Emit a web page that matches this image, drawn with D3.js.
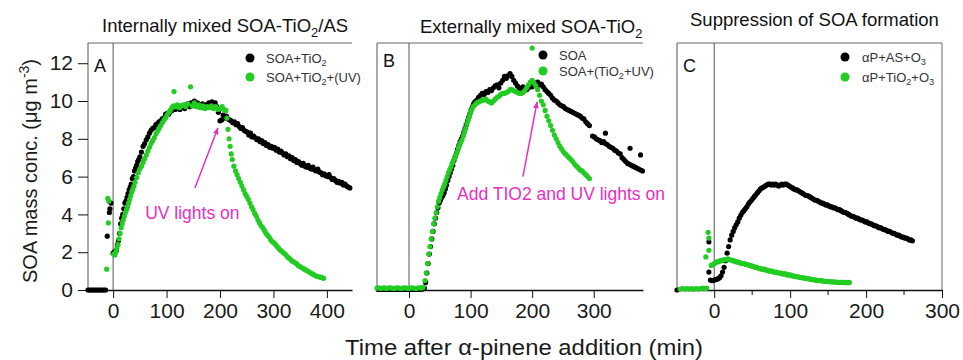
<!DOCTYPE html>
<html><head><meta charset="utf-8">
<script src="https://cdnjs.cloudflare.com/ajax/libs/d3/7.8.5/d3.min.js"></script>
<style>body{margin:0;background:#fff}svg{display:block}text{font-family:"Liberation Sans",Arial,sans-serif}</style>
</head><body><svg id="c" width="963" height="360"></svg>
<script>
// ---------- data (time in min, SOA mass conc. in ug m-3) ----------
const aSOA_TiO2 = [[-47,0],[-44,0],[-41,0],[-38,0],[-35,0],[-32,0],[-29,0],[-26,0],[-23,0],[-20,0],[-17,0],[-14,0],
[-11,2.85],[-7,4.1],[-6,4.3],[-4,4.6],
[0,1.95],[2,2.0],[4,2.0],[6,2.1],[8,2.4],[10,2.6],[12,3.0],[14,3.5],[16,3.8],[18,4.0],[20,4.3],[22,4.6],[24,4.7],[26,4.9],[28,5.1],[30,5.3],[32,5.45],[34,5.6],[36,5.9],[38,6.0],[40,6.3],[42,6.45],[44,6.6],[46,6.8],[48,6.9],[50,7.05],[53,7.3],[56,7.6],[59,7.75],[62,7.95],[65,8.1],[68,8.3],[71,8.45],[74,8.55],[77,8.6],[80,8.75],[83,8.8],[86,8.9],[89,8.95],[92,9.05],[95,9.1],[98,9.3],[101,9.35],[104,9.3],[107,9.45],[110,9.5],[113,9.6],[116,9.55],[119,9.6],[122,9.7],[125,9.55],[128,9.75],[131,9.7],[134,9.6],[137,9.8],[140,9.85],[143,9.7],[146,9.9],[149,9.75],[152,10.0],[155,9.8],[158,9.9],[161,9.7],[164,9.75],[167,9.85],[170,9.65],[173,9.8],[176,9.7],[179,9.9],[182,9.75],[185,9.95],[188,9.8],[191,9.9],[194,9.7],[197,9.4],[200,8.95],[203,9.0],[206,9.25],[209,9.1],[212,9.2],[215,9.05],[218,9.0],[221,8.95],[224,8.85],[227,8.9],[230,8.75],[233,8.8],[236,8.65],[239,8.55],[242,8.6],[245,8.45],[248,8.4],[251,8.35],[254,8.2],[257,8.3],[260,8.1],[263,8.15],[266,8.05],[269,7.95],[272,8.0],[275,7.85],[278,7.9],[281,7.75],[284,7.8],[287,7.65],[290,7.7],[293,7.55],[296,7.6],[299,7.5],[302,7.55],[305,7.4],[308,7.45],[311,7.3],[314,7.35],[317,7.25],[320,7.15],[323,7.2],[326,7.05],[329,7.1],[332,6.95],[335,7.0],[338,6.85],[341,6.9],[344,6.75],[347,6.8],[350,6.7],[353,6.6],[356,6.7],[359,6.55],[362,6.5],[365,6.6],[368,6.45],[371,6.4],[374,6.5],[377,6.35],[380,6.3],[383,6.4],[386,6.25],[389,6.2],[392,6.1],[395,6.15],[398,6.05],[401,6.0],[404,6.1],[407,5.95],[410,5.85],[413,5.9],[416,5.8],[419,5.7],[422,5.75],[425,5.65],[428,5.7],[431,5.55],[434,5.6],[437,5.5],[440,5.45],[443,5.4]];

const aSOA_TiO2_UV = [[-12,1.1],[-10,4.85],[-9,3.55],[-8,4.7],
[1,1.9],[3,1.85],[5,2.0],[7,2.2],[9,2.4],[11,2.7],[13,3.0],[15,3.3],[17,3.5],[19,3.7],[21,3.9],[23,4.1],[25,4.25],[27,4.4],[29,4.6],[31,4.8],[33,5.0],[35,5.2],[37,5.35],[39,5.5],[41,5.7],[44,5.95],[47,6.2],[50,6.4],[53,6.55],[56,6.75],[59,6.95],[62,7.15],[65,7.35],[68,7.55],[71,7.75],[74,7.9],[77,8.05],[80,8.25],[83,8.4],[86,8.55],[89,8.7],[92,8.85],[95,9.0],[98,9.1],[101,9.25],[104,9.4],[107,9.5],[110,9.65],[113,9.75],[114,10.5],[117,9.7],[120,9.8],[124,9.65],[128,9.75],[132,9.8],[136,9.7],[140,9.85],[145,10.75],[148,9.75],[152,9.9],[156,9.7],[160,9.8],[164,9.65],[168,9.75],[172,9.6],[176,9.7],[180,9.65],[184,9.75],[188,9.6],[192,9.7],[196,9.55],[200,9.6],[204,9.7],[208,9.55],[211,9.5],[213,9.1],[215,8.5],[217,8.0],[219,7.6],[221,7.2],[223,6.9],[226,6.55],[229,6.3],[232,6.1],[235,5.9],[238,5.7],[241,5.5],[244,5.3],[247,5.1],[250,4.95],[253,4.8],[256,4.6],[259,4.4],[262,4.25],[265,4.05],[268,3.9],[271,3.7],[274,3.55],[277,3.4],[280,3.3],[283,3.15],[286,3.0],[289,2.9],[292,2.8],[295,2.65],[298,2.55],[301,2.5],[304,2.4],[307,2.3],[310,2.2],[313,2.1],[316,2.05],[319,1.95],[322,1.9],[325,1.8],[328,1.7],[331,1.65],[334,1.55],[337,1.5],[340,1.45],[343,1.4],[346,1.3],[349,1.25],[352,1.2],[355,1.15],[358,1.1],[361,1.05],[364,1.0],[367,0.95],[370,0.9],[373,0.85],[376,0.8],[379,0.75],[382,0.72],[385,0.7],[388,0.68],[391,0.65],[394,0.62]];

const bSOA = [[-50,0.03],[-46,0.03],[-42,0.03],[-38,0.03],[-34,0.03],[-30,0.03],[-26,0.03],[-22,0.03],[-18,0.03],[-14,0.03],[-10,0.03],[-6,0.03],[-2,0.03],[2,0.03],[6,0.03],[10,0.03],[14,0.03],[18,0.03],[22,0.05],
[25,0.1],[27,0.4],[29,0.9],[31,1.4],[33,1.9],[35,2.3],[37,2.7],[39,3.1],[41,3.5],[43,3.8],[45,4.1],[47,4.35],[49,4.6],[51,4.75],[53,4.9],[55,5.0],[57,5.15],[59,5.35],[61,5.55],[63,5.8],[65,6.0],[67,6.2],[69,6.4],[71,6.6],[73,6.85],[75,7.05],[77,7.25],[79,7.45],[81,7.65],[83,7.85],[85,8.0],[87,8.15],[89,8.35],[91,8.55],[93,8.75],[95,8.95],[97,9.15],[99,9.35],[101,9.55],[103,9.7],[105,9.85],[107,9.95],[110,10.05],[113,10.2],[116,10.3],[119,10.4],[122,10.35],[125,10.5],[128,10.45],[131,10.6],[134,10.55],[137,10.7],[140,10.8],[143,10.85],[146,10.7],[149,10.95],[152,11.1],[155,11.3],[158,11.2],[161,11.35],[164,11.45],[167,11.3],[170,11.1],[173,10.95],[176,10.8],[179,10.7],[182,10.6],[185,10.75],[188,10.65],[191,10.6],[194,10.7],[197,10.8],[200,10.75],[203,10.9],[206,10.95],[209,11.0],[212,10.85],[215,10.9],[218,10.75],[221,10.6],[224,10.5],[227,10.4],[230,10.3],[233,10.15],[236,10.05],[239,10.0],[242,9.9],[245,9.8],[248,9.75],[251,9.7],[254,9.6],[257,9.55],[260,9.5],[263,9.45],[266,9.4],[269,9.35],[272,9.3],[275,9.25],[278,9.2],[281,9.1],[284,9.05],[287,8.9],[290,8.8],[293,8.7],[298,8.15],[301,8.1],[304,8.0],[307,7.95],[310,7.9],[313,7.8],[316,7.85],[319,7.75],[322,7.7],[325,7.6],[328,7.55],[331,7.5],[334,7.4],[337,7.35],[340,7.25],[343,7.2],[346,7.0],[349,6.9],[352,6.8],[355,6.7],[358,6.65],[361,6.6],[364,6.55],[367,6.5],[370,6.45],[373,6.4],[376,6.35],[379,6.3],[319,8.3],[359,7.5],[376,7.15]];

const bSOA_TiO2_UV = [[-52,0.1],[-49,0.12],[-46,0.08],[-43,0.1],[-40,0.12],[-37,0.08],[-34,0.1],[-31,0.12],[-28,0.1],[-25,0.08],[-22,0.1],[-19,0.12],[-16,0.1],[-13,0.08],[-10,0.1],[-7,0.12],[-4,0.1],[-1,0.08],[2,0.1],[5,0.12],[8,0.1],[11,0.08],[14,0.1],[17,0.12],[20,0.1],[23,0.15],
[26,0.5],[28,0.9],[30,1.4],[32,1.9],[34,2.3],[36,2.7],[38,3.1],[40,3.5],[42,3.8],[44,4.1],[46,4.4],[48,4.7],[50,4.9],[52,5.1],[54,5.3],[56,5.45],[58,5.6],[60,5.8],[62,6.0],[64,6.2],[66,6.35],[68,6.5],[70,6.7],[72,6.85],[74,7.0],[76,7.15],[78,7.3],[80,7.5],[82,7.65],[84,7.8],[86,7.95],[88,8.15],[90,8.35],[92,8.55],[94,8.8],[96,9.0],[98,9.2],[100,9.4],[102,9.55],[104,9.7],[107,9.8],[110,9.9],[113,9.95],[116,10.0],[119,10.05],[122,10.05],[125,10.1],[128,10.0],[131,9.95],[134,9.9],[137,10.0],[140,10.1],[143,10.2],[146,10.25],[149,10.35],[152,10.4],[155,10.4],[158,10.45],[161,10.5],[164,10.6],[167,10.6],[170,10.55],[173,10.5],[176,10.45],[179,10.4],[182,10.4],[185,10.45],[188,10.55],[191,10.7],[194,10.85],[197,11.0],[200,11.1],[200,12.8],[203,10.95],[206,10.8],[209,10.6],[212,10.3],[215,10.0],[218,9.8],[221,9.5],[224,9.2],[227,8.95],[230,8.7],[233,8.45],[236,8.2],[239,8.0],[242,7.8],[245,7.6],[248,7.45],[251,7.3],[254,7.2],[257,7.1],[260,7.0],[263,6.9],[266,6.8],[269,6.65],[272,6.55],[275,6.45],[278,6.35],[281,6.3],[284,6.2],[287,6.1],[290,6.0],[293,5.9]];

const cAP_AS_O3 = [[-49,0],[-7,2.55],[-7,0.95],[-5,0.53],[-3,0.5],[-1,0.5],[1,0.55],[3,0.55],[5,0.6],[7,0.65],[9,0.75],[11,0.95],[13,1.2],[15,1.55],[17,1.95],[19,2.3],[21,2.65],[23,2.9],[25,3.1],[27,3.3],[29,3.45],[31,3.6],[33,3.8],[35,3.95],[37,4.1],[39,4.2],[41,4.3],[43,4.4],[45,4.55],[47,4.65],[49,4.75],[51,4.85],[53,4.95],[55,5.05],[57,5.15],[59,5.25],[61,5.35],[63,5.4],[65,5.45],[67,5.5],[69,5.55],[71,5.6],[73,5.6],[75,5.55],[77,5.6],[79,5.55],[81,5.6],[83,5.55],[85,5.5],[87,5.55],[89,5.6],[91,5.55],[93,5.6],[95,5.6],[97,5.55],[99,5.5],[101,5.45],[103,5.4],[105,5.35],[107,5.3],[109,5.3],[111,5.25],[113,5.2],[115,5.15],[117,5.1],[119,5.05],[121,5.0],[123,5.0],[125,4.95],[127,4.9],[129,4.85],[131,4.8],[133,4.75],[135,4.75],[137,4.7],[139,4.65],[141,4.6],[143,4.6],[145,4.55],[147,4.5],[149,4.5],[151,4.45],[153,4.4],[155,4.4],[157,4.35],[159,4.35],[161,4.3],[163,4.25],[165,4.25],[167,4.2],[169,4.15],[171,4.1],[173,4.1],[175,4.05],[177,4.0],[179,3.95],[181,3.9],[183,3.9],[185,3.85],[187,3.8],[189,3.8],[191,3.75],[193,3.7],[195,3.7],[197,3.65],[199,3.6],[201,3.6],[203,3.55],[205,3.5],[207,3.5],[209,3.45],[211,3.4],[213,3.4],[215,3.35],[217,3.3],[219,3.3],[221,3.25],[223,3.2],[225,3.2],[227,3.15],[229,3.1],[231,3.1],[233,3.05],[235,3.0],[237,3.0],[239,2.95],[241,2.9],[243,2.9],[245,2.85],[247,2.8],[249,2.8],[251,2.75],[253,2.75],[255,2.7],[257,2.65],[259,2.65],[261,2.6]];

const cAP_TiO2_O3 = [[-45,0.05],[-42,0.08],[-39,0.05],[-36,0.08],[-33,0.05],[-30,0.08],[-27,0.05],[-24,0.08],[-21,0.05],[-18,0.08],[-15,0.1],[-12,0.08],[-10,0.1],
[-11,1.75],[-8,3.05],[-7,2.75],[-7,2.1],
[-4,1.3],[-2,1.35],[0,1.4],[2,1.45],[4,1.5],[6,1.5],[8,1.55],[10,1.55],[12,1.6],[14,1.6],[16,1.6],[18,1.65],[20,1.6],[22,1.6],[24,1.55],[26,1.55],[28,1.5],[30,1.5],[32,1.45],[34,1.45],[36,1.4],[38,1.4],[40,1.4],[42,1.35],[44,1.35],[46,1.3],[48,1.3],[50,1.25],[52,1.25],[54,1.2],[56,1.2],[58,1.15],[60,1.15],[62,1.1],[64,1.1],[66,1.1],[68,1.05],[70,1.05],[72,1.0],[74,1.0],[76,1.0],[78,0.95],[80,0.95],[82,0.95],[84,0.9],[86,0.9],[88,0.9],[90,0.85],[92,0.85],[94,0.85],[96,0.8],[98,0.8],[100,0.8],[102,0.75],[104,0.75],[106,0.72],[108,0.7],[110,0.7],[112,0.68],[114,0.66],[116,0.65],[118,0.64],[120,0.62],[122,0.6],[124,0.6],[126,0.58],[128,0.56],[130,0.55],[132,0.54],[134,0.52],[136,0.5],[138,0.5],[140,0.5],[142,0.48],[144,0.47],[146,0.46],[148,0.45],[150,0.45],[152,0.44],[154,0.43],[156,0.43],[158,0.42],[160,0.42],[162,0.41],[164,0.4],[166,0.4],[168,0.4],[170,0.4],[172,0.39],[174,0.4],[176,0.39],[178,0.4]];

const yTicks = [0,2,4,6,8,10,12];
const aXTicks = [0,100,200,300,400];
const bXTicks = [0,100,200,300];
const cXTicks = [0,100,200,300];
const cXMinor = [50,150,250];

// ---------- drawing ----------
const svg = d3.select("#c");
const GREEN = "#22cc22", MAG = "#e830c0";
const yTop = 43, yBot = 290;
const y = d3.scaleLinear().domain([0, 13.07]).range([yBot, yTop]);

// rich text: strings are normal, {sub:..}/{sup:..} are shifted; following text restores baseline
function rich(sel, parts, size){
  let shift = 0;
  parts.forEach(p=>{
    if (typeof p === "string") {
      const t = sel.append("tspan").text(p);
      if (shift) { t.attr("dy", -shift); shift = 0; }
    } else {
      const d = p.sub ? size*0.25 : -size*0.4;
      sel.append("tspan").attr("font-size", size*0.7).attr("dy", d - shift).text(p.sub || p.sup);
      shift = d;
    }
  });
}

svg.append("defs").append("marker").attr("id","arr").attr("viewBox","0 0 10 10")
  .attr("refX",9).attr("refY",5).attr("markerWidth",7).attr("markerHeight",7).attr("orient","auto-start-reverse")
  .attr("markerUnits","userSpaceOnUse")
  .append("path").attr("d","M0,1 L10,5 L0,9 z").attr("fill",MAG);

const panels = [
  {x:d3.scaleLinear().domain([-47,447]).range([88,352]), ticks:aXTicks, minor:[], series:[[aSOA_TiO2,"#000"],[aSOA_TiO2_UV,GREEN]],
   letter:"A", yAxis:true, right:false, title:["Internally mixed SOA-TiO",{sub:"2"},"/AS"], tx:102, ty:32,
   leg:[[["SOA+TiO",{sub:"2"}],"#000"],[["SOA+TiO",{sub:"2"},"+(UV)"],GREEN]], lx:250, ly:[58,77], ltx:266,
   arrow:[[153,5.4],[196,8.57]], note:"UV lights on", nt:[60,3.75]},
  {x:d3.scaleLinear().domain([-52,380]).range([377,643]), ticks:bXTicks, minor:[], series:[[bSOA,"#000"],[bSOA_TiO2_UV,GREEN]],
   letter:"B", yAxis:false, right:false, title:["Externally mixed SOA-TiO",{sub:"2"}], tx:420, ty:33,
   leg:[[["SOA"],"#000"],[["SOA+(TiO",{sub:"2"},"+UV)"],GREEN]], lx:543, ly:[55,71], ltx:559,
   arrow:[[185,6.0],[208,9.95]], note:"Add TIO2 and UV lights on", nt:[78,4.75]},
  {x:d3.scaleLinear().domain([-49,300]).range([677,942]), ticks:cXTicks, minor:cXMinor, series:[[cAP_AS_O3,"#000"],[cAP_TiO2_O3,GREEN]],
   letter:"C", yAxis:false, right:true, title:["Suppression of SOA formation"], tx:690, ty:26,
   leg:[[["\u03b1P+AS+O",{sub:"3"}],"#000"],[["\u03b1P+TiO",{sub:"2"},"+O",{sub:"3"}],GREEN]], lx:845, ly:[57,77], ltx:862,
   arrow:null}
];

panels.forEach(p=>{
  const g = svg.append("g");
  const [x0,x1] = p.x.range();
  g.append("line").attr("x1",x0).attr("x2",x1).attr("y1",yTop).attr("y2",yTop).attr("stroke","#666").attr("stroke-width",1);
  g.append("line").attr("x1",x0).attr("x2",x0).attr("y1",yTop).attr("y2",yBot).attr("stroke","#555").attr("stroke-width",1);
  if (p.right) g.append("line").attr("x1",x1).attr("x2",x1).attr("y1",yTop).attr("y2",yBot).attr("stroke","#666").attr("stroke-width",1);
  g.append("line").attr("x1",p.x(0)).attr("x2",p.x(0)).attr("y1",yTop).attr("y2",yBot).attr("stroke","#555").attr("stroke-width",1);
  const xa = g.append("g").attr("transform",`translate(0,${yBot})`)
    .call(d3.axisBottom(p.x).tickValues(p.ticks).tickSize(8).tickPadding(5).tickSizeOuter(0));
  xa.select(".domain").attr("stroke","#111").attr("stroke-width",1.3);
  xa.selectAll(".tick line").attr("stroke","#111");
  xa.selectAll("text").attr("font-size",21).attr("fill","#1a1a1a").attr("font-family","Liberation Sans, Arial, sans-serif");
  if (p.minor.length){
    g.selectAll(".mn").data(p.minor).join("line").attr("x1",d=>p.x(d)).attr("x2",d=>p.x(d))
      .attr("y1",yBot).attr("y2",yBot+5).attr("stroke","#111");
  }
  if (p.yAxis){
    const ya = g.append("g").attr("transform",`translate(${x0},0)`)
      .call(d3.axisLeft(y).tickValues(yTicks).tickSize(10).tickPadding(5).tickSizeOuter(0));
    ya.select(".domain").remove();
    ya.selectAll(".tick line").attr("stroke","#111");
    ya.selectAll("text").attr("font-size",21).attr("fill","#1a1a1a").attr("font-family","Liberation Sans, Arial, sans-serif");
  }
  p.series.forEach(([data,col])=>{
    g.append("g").selectAll("circle").data(data).join("circle")
      .attr("cx",d=>p.x(d[0])).attr("cy",d=>y(d[1])).attr("r",2.6).attr("fill",col);
  });
  g.append("text").attr("x",x0+6).attr("y",p.letter==="B"?67:72).attr("font-size",18).attr("fill","#111").text(p.letter);
  rich(g.append("text").attr("x",p.tx).attr("y",p.ty).attr("font-size",18.5).attr("fill","#111"), p.title, 18.5);
  p.leg.forEach(([parts,col],i)=>{
    g.append("circle").attr("cx",p.lx).attr("cy",p.ly[i]).attr("r",4.5).attr("fill",col);
    rich(g.append("text").attr("x",p.ltx).attr("y",p.ly[i]+4.5).attr("font-size",13).attr("fill","#333"), parts, 13);
  });
  if (p.arrow){
    g.append("line").attr("x1",p.x(p.arrow[0][0])).attr("y1",y(p.arrow[0][1]))
      .attr("x2",p.x(p.arrow[1][0])).attr("y2",y(p.arrow[1][1]))
      .attr("stroke",MAG).attr("stroke-width",1.5).attr("marker-end","url(#arr)");
    g.append("text").attr("x",p.x(p.nt[0])).attr("y",y(p.nt[1])).attr("font-size",17.5).attr("fill",MAG).text(p.note);
  }
});

const yt = svg.append("text").attr("transform","translate(37,171) rotate(-90)").attr("text-anchor","middle")
  .attr("font-size",20).attr("fill","#1a1a1a");
rich(yt, ["SOA mass conc. (\u03bcg m",{sup:"-3"},")"], 20);
svg.append("text").attr("x",345).attr("y",355).attr("font-size",22).attr("fill","#1a1a1a")
  .attr("textLength",358).attr("lengthAdjust","spacingAndGlyphs")
  .text("Time after \u03b1-pinene addition (min)");
</script></body></html>
